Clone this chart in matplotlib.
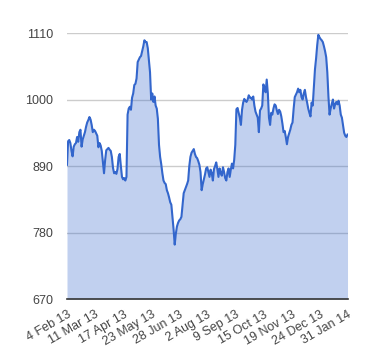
import numpy as np
import matplotlib
matplotlib.use("Agg")
import matplotlib.pyplot as plt

# closing prices, one per trading day, 25 trading days per row
prices = [
    892, 931, 933, 928, 915, 906, 922, 926, 928, 938, 930, 946, 950, 922, 934, 940, 946, 955, 962, 966, 971, 967, 958, 946, 950,
    948, 944, 940, 921, 928, 924, 915, 897, 878, 900, 916, 918, 920, 917, 915, 905, 887, 878, 880, 877, 885, 905, 910, 890, 872,
    868, 870, 866, 872, 975, 985, 988, 983, 1003, 1010, 1024, 1026, 1035, 1062, 1066, 1070, 1072, 1080, 1088, 1098, 1095, 1095, 1085, 1065, 1045,
    1000, 1010, 996, 1005, 990, 985, 968, 925, 905, 893, 878, 866, 862, 860, 850, 845, 838, 830, 826, 806, 785, 760, 778, 790, 796,
    800, 802, 806, 825, 845, 850, 855, 860, 866, 890, 905, 912, 915, 918, 910, 905, 903, 898, 892, 880, 850, 860, 868, 876, 886,
    888, 880, 872, 884, 878, 866, 885, 890, 896, 885, 872, 886, 878, 874, 888, 880, 870, 866, 880, 886, 872, 884, 894, 886, 900,
    925, 984, 986, 978, 970, 958, 983, 995, 1001, 998, 996, 1000, 1007, 1003, 1003, 1000, 1005, 990, 980, 975, 970, 946, 982, 985, 990,
    1025, 1020, 1012, 1033, 1010, 970, 958, 978, 975, 985, 992, 990, 982, 976, 983, 980, 972, 960, 946, 948, 938, 926, 938, 944, 950,
    958, 962, 985, 1004, 1008, 1012, 1018, 1012, 1016, 1004, 1000, 1010, 1016, 1004, 995, 985, 978, 972, 995, 990, 1020, 1050, 1068, 1090, 1107,
    1103, 1100, 1098, 1095, 1088, 1080, 1070, 1045, 1005, 975, 985, 993, 1000, 985, 992, 996, 992, 998, 990, 975, 970, 958, 945, 940, 938,
    942,
]
tick_labels = ["4 Feb 13", "11 Mar 13", "17 Apr 13", "23 May 13", "28 Jun 13", "2 Aug 13",
               "9 Sep 13", "15 Oct 13", "19 Nov 13", "24 Dec 13", "31 Jan 14"]
y_ticks = [670, 780, 890, 1000, 1110]

plt.rcParams['font.family'] = ['Liberation Sans', 'DejaVu Sans']

fig = plt.figure(figsize=(3.8, 3.6), dpi=100)
ax = fig.add_axes([0.1763, 0.1694, 0.9145 - 0.1763, 0.9083 - 0.1694])

x = np.arange(len(prices))
ax.fill_between(x, 670, prices, color='#3366cc', alpha=0.3, linewidth=0, zorder=2)
ax.plot(x, prices, color='#3366cc', linewidth=1.5, zorder=3)

ax.set_xlim(0, len(prices) - 1)
ax.set_ylim(670, 1110)
ax.set_yticks(y_ticks)
ax.set_yticklabels([str(v) for v in y_ticks])
ax.set_xticks(np.arange(0, len(prices), 25))
ax.set_xticklabels(tick_labels, rotation=30, ha='right', rotation_mode='anchor')

for v in y_ticks[1:]:
    ax.axhline(v, color='#cccccc', linewidth=1, zorder=1)

for s in ['top', 'right', 'left']:
    ax.spines[s].set_visible(False)
ax.spines['bottom'].set_color('#333333')
ax.spines['bottom'].set_linewidth(1.2)
ax.spines['bottom'].set_zorder(4)
ax.tick_params(axis='both', length=0, labelsize=9, colors='#444444')
ax.tick_params(axis='y', pad=10)
ax.tick_params(axis='x', pad=7)

fig.savefig("out.png", dpi=100)
